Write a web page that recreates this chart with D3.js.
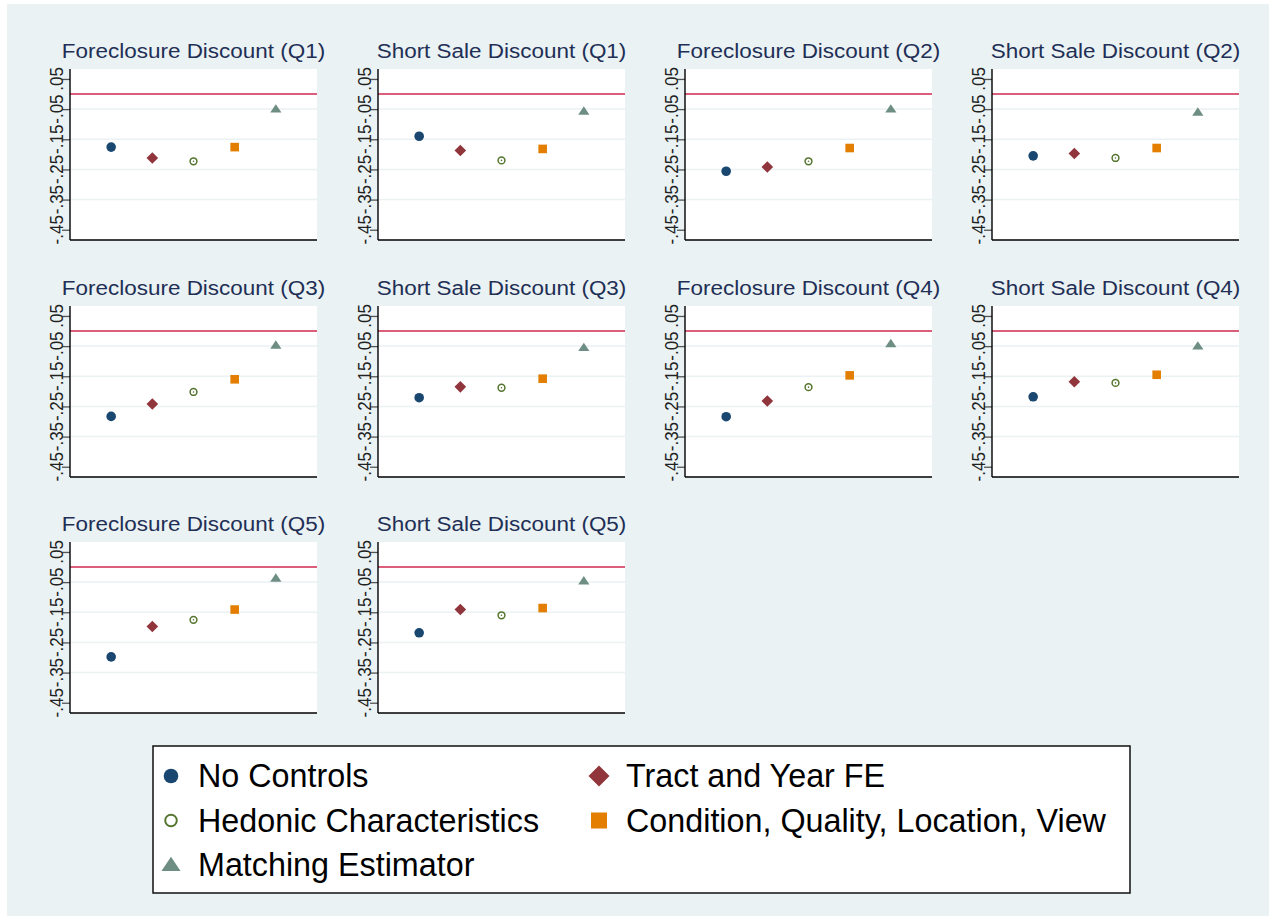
<!DOCTYPE html>
<html>
<head>
<meta charset="utf-8">
<script src="https://cdn.jsdelivr.net/npm/d3@7"></script>
<style>
  body { margin: 0; background: #ffffff; }
  svg { display: block; font-family: "Liberation Sans", Arial, sans-serif; }
</style>
</head>
<body>
<svg id="chart"></svg>
<script>
// panel titles, in reading order
const panelTitles = [
  "Foreclosure Discount (Q1)", "Short Sale Discount (Q1)",
  "Foreclosure Discount (Q2)", "Short Sale Discount (Q2)",
  "Foreclosure Discount (Q3)", "Short Sale Discount (Q3)",
  "Foreclosure Discount (Q4)", "Short Sale Discount (Q4)",
  "Foreclosure Discount (Q5)", "Short Sale Discount (Q5)"
];

const seriesNames = [
  "No Controls",
  "Tract and Year FE",
  "Hedonic Characteristics",
  "Condition, Quality, Location, View",
  "Matching Estimator"
];

// one value per panel (same order as panelTitles)
const noControls  = [-0.176, -0.140, -0.256, -0.205, -0.283, -0.221, -0.284, -0.218, -0.298, -0.218];
const tractYearFE = [-0.212, -0.187, -0.242, -0.197, -0.242, -0.185, -0.232, -0.168, -0.197, -0.141];
const hedonic     = [-0.223, -0.220, -0.223, -0.212, -0.202, -0.188, -0.186, -0.172, -0.175, -0.160];
const condition   = [-0.176, -0.182, -0.179, -0.179, -0.160, -0.158, -0.147, -0.145, -0.141, -0.136];
const matching    = [-0.050, -0.057, -0.050, -0.060, -0.047, -0.055, -0.042, -0.050, -0.037, -0.046];

const yTicks = [-0.45, -0.35, -0.25, -0.15, -0.05, 0.05];
const yTickLabels = ["-.45", "-.35", "-.25", "-.15", "-.05", ".05"];
const refLine = 0;

const allSeries = [noControls, tractYearFE, hedonic, condition, matching];

const W = 1276, H = 920;
const svg = d3.select("#chart").attr("width", W).attr("height", H);

// graph region
svg.append("rect")
  .attr("x", 7).attr("y", 4)
  .attr("width", W - 14).attr("height", H - 8)
  .attr("fill", "#eaf2f3");

const colors = ["#1a476f", "#90353b", "#55752f", "#e37e00", "#6e8e84"];

// marker drawing: series index picks the symbol, s scales it
function drawMarker(g, i, x, y, s, legendMode) {
  const c = colors[i];
  if (i === 0) {
    const r = legendMode ? 7.3 : 4.8;
    g.append("circle").attr("cx", x).attr("cy", y).attr("r", r).attr("fill", c);
  } else if (i === 1) {
    const h = legendMode ? 10.5 : 5.8;
    g.append("path")
      .attr("d", `M${x},${y - h}L${x + h},${y}L${x},${y + h}L${x - h},${y}Z`)
      .attr("fill", c);
  } else if (i === 2) {
    g.append("circle").attr("cx", x).attr("cy", y).attr("r", 3.4 * s)
      .attr("fill", "none").attr("stroke", c).attr("stroke-width", 1.5 * Math.sqrt(s));
    if (!legendMode) {
      g.append("circle").attr("cx", x).attr("cy", y).attr("r", 0.8).attr("fill", c);
    }
  } else if (i === 3) {
    const h = legendMode ? 8 : 4.3;
    g.append("rect").attr("x", x - h).attr("y", y - h)
      .attr("width", 2 * h).attr("height", 2 * h).attr("fill", c);
  } else {
    const w = 5.6 * s, t = 4.9 * s, b = 3.5 * s;
    g.append("path")
      .attr("d", `M${x},${y - t}L${x + w},${y + b}L${x - w},${y + b}Z`)
      .attr("fill", c);
  }
}

const colX = [70, 378, 685, 992];
const rowY = [69, 306, 542];
const plotW = 247, plotH = 171;

const x = d3.scaleLinear().domain([0, 6]).range([0, plotW]);
const y = d3.scaleLinear().domain([-0.484, 0.083]).range([plotH, 0]);

panelTitles.forEach((title, p) => {
  const g = svg.append("g")
    .attr("transform", `translate(${colX[p % 4]},${rowY[Math.floor(p / 4)]})`);

  g.append("rect").attr("width", plotW).attr("height", plotH).attr("fill", "#ffffff");

  // gridlines (inner ticks only)
  g.selectAll(".grid")
    .data(yTicks.slice(1, -1))
    .enter()
    .append("line")
    .attr("x1", 0).attr("x2", plotW)
    .attr("y1", (d) => y(d)).attr("y2", (d) => y(d))
    .attr("stroke", "#eaf2f3").attr("stroke-width", 1.5);

  // reference line at zero
  g.append("line")
    .attr("x1", 0).attr("x2", plotW)
    .attr("y1", y(refLine)).attr("y2", y(refLine))
    .attr("stroke", "#cf2a4f").attr("stroke-width", 1.6);

  // y axis
  const yAxis = g.append("g")
    .call(d3.axisLeft(y).tickValues(yTicks).tickSize(8).tickFormat(""));
  yAxis.select(".domain").remove();
  yAxis.selectAll(".tick line").attr("stroke", "#555").attr("stroke-width", 1.3);

  g.selectAll(".ylab")
    .data(yTicks)
    .enter()
    .append("text")
    .attr("transform", (d) => `translate(-7,${y(d)}) rotate(-90) scale(1,1.06)`)
    .attr("text-anchor", "middle")
    .attr("font-size", 17)
    .attr("fill", "#222")
    .text((d, i) => yTickLabels[i]);

  g.append("line").attr("x1", 0).attr("x2", 0).attr("y1", 0).attr("y2", plotH)
    .attr("stroke", "#000").attr("stroke-width", 1.4);
  g.append("line").attr("x1", 0).attr("x2", plotW).attr("y1", plotH).attr("y2", plotH)
    .attr("stroke", "#000").attr("stroke-width", 1.4);

  g.append("text")
    .attr("transform", `translate(${plotW / 2},-11) scale(1.07,1)`)
    .attr("text-anchor", "middle")
    .attr("font-size", 21)
    .attr("fill", "#1f2f56")
    .text(title);

  allSeries.forEach((vals, i) => {
    drawMarker(g, i, x(i + 1), y(vals[p]), 1, false);
  });
});

// legend
const legend = svg.append("g").attr("transform", "translate(153,746)");
legend.append("rect")
  .attr("width", 977).attr("height", 147)
  .attr("fill", "#ffffff").attr("stroke", "#111").attr("stroke-width", 1.5);

seriesNames.forEach((name, i) => {
  const cx = i % 2 === 0 ? 18 : 446;
  const cy = 30 + Math.floor(i / 2) * 44.5;
  drawMarker(legend, i, cx, cy, 1.7, true);
  legend.append("text")
    .attr("x", cx + 27).attr("y", cy + 11)
    .attr("font-size", 32.3)
    .attr("fill", "#000")
    .text(name);
});
</script>
</body>
</html>
